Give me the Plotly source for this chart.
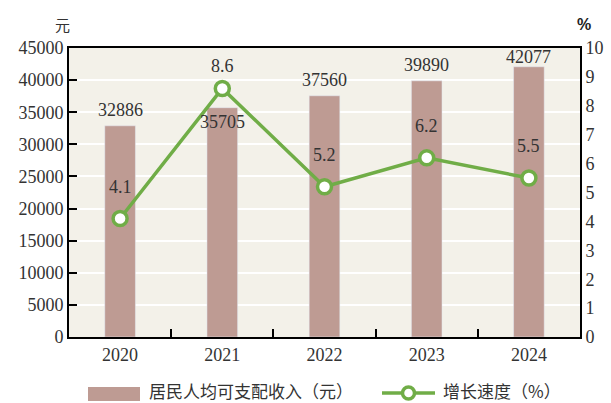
import plotly.graph_objects as go

years = ["2020", "2021", "2022", "2023", "2024"]
income = [32886, 35705, 37560, 39890, 42077]
growth = [4.1, 8.6, 5.2, 6.2, 5.5]
income_label_shift = [16, -14, 16, 16, 10]
growth_label_shift = [32, 22, 32, 32, 32]

BAR = "#BE9B93"
GREEN = "#70AD47"
BG = "#F3F1E9"
NUM_FONT = "Liberation Serif"
CJK_FONT = "Noto Sans CJK SC"

W, H = 611, 403
ML, MR, MT, MB = 69, 31, 48, 66
pw, ph = W - ML - MR, H - MT - MB
def px(x):
    return (x - ML) / pw
def py(y):
    return (H - MB - y) / ph

fig = go.Figure()
fig.add_trace(go.Bar(x=years, y=income, marker_color=BAR, width=0.3,
                     name="居民人均可支配收入（元）", showlegend=False))
fig.add_trace(go.Scatter(x=years, y=growth, yaxis="y2", mode="lines+markers",
                         line=dict(color=GREEN, width=3.5),
                         marker=dict(size=14, color="white", line=dict(color=GREEN, width=3.5)),
                         name="增长速度（%）", showlegend=False))

# category index used for annotation positions (numeric-like strings would be read as serials)
for i, (v, s) in enumerate(zip(income, income_label_shift)):
    fig.add_annotation(x=i, y=v, text=str(v), showarrow=False, yshift=s,
                       font=dict(family=NUM_FONT, size=18, color="#333"))
for i, (v, s) in enumerate(zip(growth, growth_label_shift)):
    fig.add_annotation(x=i, y=v, yref="y2", text=str(v), showarrow=False, yshift=s,
                       font=dict(family=NUM_FONT, size=18, color="#333"))

def paper_text(x, y, text, font, xanchor="center"):
    fig.add_annotation(x=px(x), y=py(y), xref="paper", yref="paper", text=text,
                       xanchor=xanchor, yanchor="middle", showarrow=False, font=font)

paper_text(62, 25, "元", dict(family=CJK_FONT, size=15, color="#333"))
paper_text(584, 25, "<b>%</b>", dict(family="Liberation Sans", size=16, color="#222"))

# manual legend
fig.add_shape(type="rect", xref="paper", yref="paper", x0=px(88), x1=px(140),
              y0=py(401), y1=py(387), fillcolor=BAR, line_width=0)
paper_text(147, 390, "居民人均可支配收入（元）", dict(family=CJK_FONT, size=17, color="#333"), "left")
fig.add_shape(type="line", xref="paper", yref="paper", x0=px(382), x1=px(435),
              y0=py(393), y1=py(393), line=dict(color=GREEN, width=3.5))
r = 6
fig.add_shape(type="circle", xref="paper", yref="paper",
              x0=px(408.5 - r), x1=px(408.5 + r), y0=py(393 + r), y1=py(393 - r),
              fillcolor="white", line=dict(color=GREEN, width=3.5))
paper_text(441, 390, "增长速度（%）", dict(family=CJK_FONT, size=17, color="#333"), "left")

fig.update_layout(
    width=W, height=H,
    margin=dict(l=ML, r=MR, t=MT, b=MB),
    paper_bgcolor="white", plot_bgcolor=BG,
    font=dict(family=NUM_FONT, size=18, color="#333"),
    xaxis=dict(type="category", range=[-0.5, 4.5], showline=True, linecolor="black",
               linewidth=2, mirror=True, ticks="inside", tickson="boundaries",
               ticklen=8, tickwidth=2, tickcolor="black", showgrid=False,
               tickfont=dict(family=NUM_FONT, size=18)),
    yaxis=dict(range=[0, 45000], dtick=5000, tickformat="d", showline=True,
               linecolor="black", linewidth=2, ticks="inside", ticklen=8,
               tickwidth=2, tickcolor="black", automargin=False,
               showgrid=True, gridcolor="white", gridwidth=2, zeroline=False,
               tickfont=dict(family=NUM_FONT, size=18)),
    yaxis2=dict(range=[0, 10], dtick=1, overlaying="y", side="right",
                showline=True, linecolor="black", linewidth=2, showgrid=False,
                zeroline=False, ticks="", automargin=False,
                tickfont=dict(family=NUM_FONT, size=18)),
)

fig.write_html("out.html", config={"displayModeBar": False},
               post_script="document.body.style.margin='0';")
